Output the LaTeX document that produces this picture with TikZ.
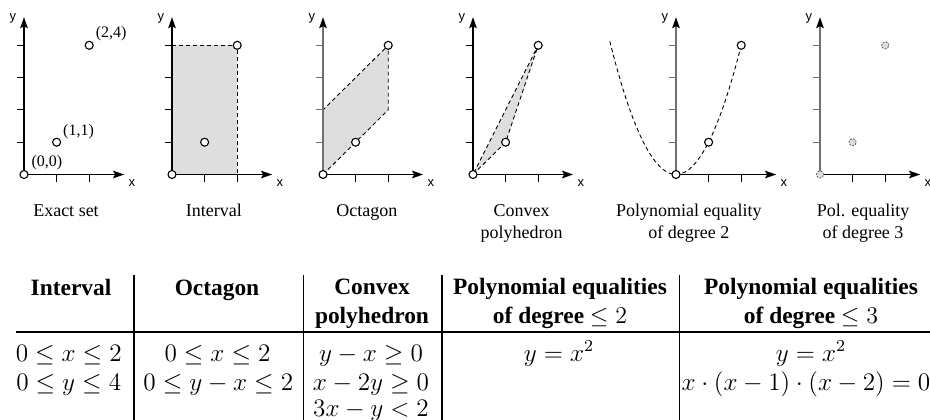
\documentclass[tikz,border=0pt]{standalone}
\usepackage[no-math]{fontspec}
\setmainfont{Liberation Serif}
\setsansfont{Liberation Sans}
\usetikzlibrary{arrows.meta,positioning}
\definecolor{dgray}{HTML}{DEDEDE}
\definecolor{axgray}{HTML}{707070}
\newcommand{\tabeq}[1]{\scalebox{1.05}{$#1$}}

\begin{document}
\begin{tikzpicture}[x=0.5pt,y=-0.5pt, every node/.style={inner sep=0pt}, ax/.style={line width=0.65pt,-{Stealth[length=5.5pt,width=3.8pt,inset=1pt,color=black]}}, tk/.style={line width=0.5pt}, dsh/.style={line width=0.45pt,dash pattern=on 2pt off 1.5pt}, region/.style={dsh,fill=dgray}, vtx/.style={circle,draw,fill=white,line width=0.55pt,minimum size=4pt}, ghost/.style={circle,draw=black!65,fill=dgray,line width=0.4pt,dash pattern=on 0.9pt off 0.7pt,minimum size=3.6pt}, lbl/.style={font=\fontsize{8}{9}\selectfont}, axl/.style={font=\sffamily\fontsize{6.5}{7}\selectfont}, capt/.style={font=\fontsize{9}{11}\selectfont,align=center,anchor=base}, hd/.style={font=\bfseries\fontsize{11.7}{14.2}\selectfont,align=center,anchor=base}, eq/.style={font=\fontsize{12}{14.5}\selectfont,anchor=base}, trule/.style={line width=0.8pt}]
\useasboundingbox (0,0) rectangle (930,419);
% shaded sets
\begin{scope}[shift={(172,174.5)},x=16.3pt,y=16.15pt]
  \fill[dgray] (0,0) rectangle (2,4);
  \draw[dsh] (0,4) -- (2,4) -- (2,0);
\end{scope}
\begin{scope}[shift={(323,174.5)},x=16.3pt,y=16.15pt]
  \draw[region] (0,0) -- (2,2) -- (2,4) -- (0,2) -- cycle;
\end{scope}
\begin{scope}[shift={(473,174.5)},x=16.3pt,y=16.15pt]
  \draw[region] (0,0) -- (1,1) -- (2,4) -- cycle;
\end{scope}
\begin{scope}[shift={(676,174.5)},x=16.3pt,y=16.15pt]
  \draw[dsh] plot[domain=-2.03:2,samples=41] (\x,\x*\x);
\end{scope}
% axes
\foreach \ox/\yc [count=\i] in {24/black,172/black,323/axgray,473/black,676/axgray,820/axgray} {
  \begin{scope}[shift={(\ox,174.5)},x=16.3pt,y=16.15pt]
    \coordinate (o\i) at (0,0);
    \coordinate (xe\i) at (3.07,0);
    \coordinate (ye\i) at (0,4.87);
    \draw[ax] (o\i) -- (xe\i);
    \draw[ax,\yc] (o\i) -- (ye\i);
    \foreach \k in {1,...,4} \draw[tk,\yc] (-0.23,\k) -- (0,\k);
    \foreach \k in {1,2} \draw[tk] (\k,0) -- (\k,-0.23);
    \node[axl] (x\i) at (3.31,-0.25) {x};
    \node[axl] (y\i) at (-0.34,4.83) {y};
  \end{scope}
}
% points
\foreach \ox [count=\i] in {24,172,323,473,676} {
  \begin{scope}[shift={(\ox,174.5)},x=16.3pt,y=16.15pt]
    \node[vtx] (a\i) at (0,0) {};
    \node[vtx] (b\i) at (1,1) {};
    \node[vtx] (c\i) at (2,4) {};
  \end{scope}
}
\begin{scope}[shift={(820,174.5)},x=16.3pt,y=16.15pt]
  \node[ghost] (a6) at (0,0) {};
  \node[ghost] (b6) at (1,1) {};
  \node[ghost] (c6) at (2,4) {};
\end{scope}
\node[lbl,above right=0.5pt and 2pt of a1] (la) {(0,0)};
\node[lbl,above right=0pt and 1.5pt of b1] (lb) {(1,1)};
\node[lbl,above right=0.5pt and 1.5pt of c1] (lc) {(2,4)};
% captions (multi-line ones sit on their last line)
\node[capt] (c1) at (66,216.7) {Exact set};
\node[capt] (c2) at (213.8,216.7) {Interval};
\node[capt] (c3) at (366.8,216.7) {Octagon};
\node[capt] (c4) at (521.7,238.7) {Convex\\polyhedron};
\node[capt] (c5) at (688.8,238.7) {Polynomial equality\\of degree 2};
\node[capt] (c6) at (863,238.7) {Pol. equality\\of degree 3};
% table
\draw[trule,line width=1pt] (16,331.7) -- (945,331.7);
\foreach \cx in {134,303.3,441.7,679.3} \draw[trule] (\cx,275) -- (\cx,425);
\node[hd] (h1) at (71,295) {Interval};
\node[hd] (h2) at (217,295) {Octagon};
\node[hd] (h3) at (372,323.3) {Convex\\polyhedron};
\node[hd] (h4) at (560,323.3) {Polynomial equalities\\of degree $\leq 2$};
\node[hd] (h5) at (811,323.3) {Polynomial equalities\\of degree $\leq 3$};
\node[eq] (e11) at (68.7,361) {\tabeq{0\leq x\leq 2}};
\node[eq] (e12) at (68.7,390) {\tabeq{0\leq y\leq 4}};
\node[eq] (e21) at (217.5,361) {\tabeq{0\leq x\leq 2}};
\node[eq] (e22) at (218.3,390) {\tabeq{0\leq y-x\leq 2}};
\node[eq] (e31) at (371,361) {\tabeq{y-x\geq 0}};
\node[eq] (e32) at (371,390) {\tabeq{x-2y\geq 0}};
\node[eq] (e33) at (371,416) {\tabeq{3x-y<2}};
\node[eq] (e41) at (559,361) {\tabeq{y=x^2}};
\node[eq] (e51) at (811,361) {\tabeq{y=x^2}};
\node[eq] (e52) at (806,390) {\tabeq{x\cdot(x-1)\cdot(x-2)=0}};
\end{tikzpicture}
\end{document}
